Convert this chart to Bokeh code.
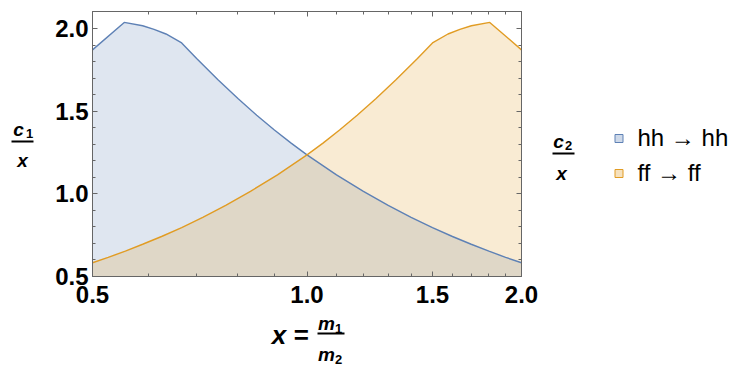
from bokeh.plotting import figure
from bokeh.layouts import row, column
from bokeh.models import (Range1d, FixedTicker, LogAxis, LinearAxis, PrintfTickFormatter,
                          CustomJSTickFormatter, ColumnDataSource)
from bokeh.core.properties import value
from bokeh.embed import file_html
from bokeh.resources import INLINE

# ---------------- data ----------------
x_hh = [0.5, 0.554, 0.588, 0.61, 0.634, 0.667, 0.7, 0.75, 0.8, 0.85, 0.9, 0.95, 1.0,
        1.1, 1.2, 1.3, 1.4, 1.5, 1.6, 1.7, 1.8, 1.9, 2.0]
c1_hh = [1.871, 2.037, 2.017, 1.995, 1.967, 1.913, 1.819, 1.69, 1.577, 1.475, 1.386, 1.307, 1.236,
         1.115, 1.015, 0.930, 0.858, 0.796, 0.742, 0.695, 0.653, 0.616, 0.583]

x_ff = [0.5, 0.526, 0.556, 0.588, 0.625, 0.667, 0.714, 0.769, 0.833, 0.909, 1.0,
        1.053, 1.111, 1.176, 1.25, 1.333, 1.429, 1.5, 1.577, 1.639, 1.701, 1.805, 2.0]
c2_ff = [0.583, 0.616, 0.653, 0.695, 0.742, 0.796, 0.858, 0.930, 1.015, 1.115, 1.236,
         1.307, 1.386, 1.475, 1.577, 1.69, 1.819, 1.913, 1.967, 1.995, 2.017, 2.037, 1.871]

series_names = ["hh \u2192 hh", "ff \u2192 ff"]

x_major = [0.5, 1.0, 1.5, 2.0]
x_minor = [0.6, 0.7, 0.8, 0.9, 1.1, 1.2, 1.3, 1.4, 1.6, 1.7, 1.8, 1.9]
y_major = [0.5, 1.0, 1.5, 2.0]
y_minor = [0.6, 0.7, 0.8, 0.9, 1.1, 1.2, 1.3, 1.4, 1.6, 1.7, 1.8, 1.9]
x_lim = (0.5, 2.0)
y_lim = (0.5, 2.103)

# ---------------- styling ----------------
BLUE = "#5e81b5"
ORANGE = "#e19c24"
FRAME = "#666666"
FONT = "Liberation Sans"

# ---------------- main plot ----------------
p = figure(width=495, height=310, x_axis_type="log",
           x_range=Range1d(*x_lim), y_range=Range1d(*y_lim),
           output_backend="svg", toolbar_location=None,
           min_border_left=47, min_border_right=19, min_border_top=11, min_border_bottom=34)
p.grid.visible = False
p.outline_line_color = FRAME
p.background_fill_color = "white"

src_hh = ColumnDataSource(dict(x=x_hh, y=c1_hh))
src_ff = ColumnDataSource(dict(x=x_ff, y=c2_ff))

p.varea(x="x", y1=y_lim[0], y2="y", source=src_hh, fill_color=BLUE, fill_alpha=0.2)
p.varea(x="x", y1=y_lim[0], y2="y", source=src_ff, fill_color=ORANGE, fill_alpha=0.2)
p.line(x="x", y="y", source=src_hh, line_color=BLUE, line_width=1.4)
p.line(x="x", y="y", source=src_ff, line_color=ORANGE, line_width=1.4)

xt = FixedTicker(ticks=x_major, minor_ticks=x_minor)
yt = FixedTicker(ticks=y_major, minor_ticks=y_minor)


def style_axis(ax, labels=True, standoff=5):
    ax.axis_line_color = FRAME
    ax.major_tick_line_color = FRAME
    ax.minor_tick_line_color = FRAME
    ax.major_tick_in = 5
    ax.major_tick_out = 0
    ax.minor_tick_in = 3
    ax.minor_tick_out = 0
    if labels:
        ax.major_label_text_font = FONT
        ax.major_label_text_font_size = "24px"
        ax.major_label_text_font_style = "bold"
        ax.major_label_text_color = "black"
        ax.major_label_standoff = standoff
        ax.formatter = PrintfTickFormatter(format="%.1f")
    else:
        ax.formatter = CustomJSTickFormatter(code="return ''")
        ax.major_label_text_font_size = "1px"
        ax.major_label_standoff = 0


p.xaxis.ticker = xt
p.yaxis.ticker = yt
style_axis(p.xaxis[0], standoff=9)
style_axis(p.yaxis[0], standoff=4)

top_ax = LogAxis(ticker=xt)
style_axis(top_ax, labels=False)
p.add_layout(top_ax, "above")
right_ax = LinearAxis(ticker=yt)
style_axis(right_ax, labels=False)
p.add_layout(right_ax, "right")


# ---------------- text panels around the plot ----------------
# Each panel's ranges are set to the page-pixel span its frame occupies (y downward).
def blank(w, h, xr, yr):
    f = figure(width=w, height=h, x_range=Range1d(*xr), y_range=Range1d(*yr),
               output_backend="svg", toolbar_location=None, min_border=0,
               x_axis_location=None, y_axis_location=None)
    f.grid.visible = False
    f.outline_line_color = None
    return f


def txt(f, text, x, y, size, style="bold italic", align="center"):
    f.text(x=[x], y=[y], text=[text], text_font=value(FONT), text_font_size=value(f"{size}px"),
           text_font_style=value(style), text_align=value(align), text_baseline=value("middle"),
           text_color="black")


def bar(f, x0, x1, y):
    f.segment(x0=[x0], y0=[y], x1=[x1], y1=[y], line_color="black", line_width=2.2)


# left: c1 / x
left = blank(45, 310, (0, 45), (276, 11))
txt(left, "c", 18, 129, 19)
txt(left, "1", 29, 133, 13, style="bold")
bar(left, 11, 33, 141)
txt(left, "x", 22, 160, 19)

# right: c2 / x and legend
right = blank(190, 310, (540, 730), (276, 11))
txt(right, "c", 558, 141, 19)
txt(right, "2", 568, 145, 13, style="bold")
bar(right, 552, 574, 153)
txt(right, "x", 561, 173, 19)

right.scatter(x=[618.5], y=[138], marker="square", size=8, fill_color=BLUE, fill_alpha=0.3,
              line_color=BLUE, line_width=1)
right.scatter(x=[618.5], y=[173], marker="square", size=8, fill_color=ORANGE, fill_alpha=0.3,
              line_color=ORANGE, line_width=1)
txt(right, series_names[0], 637, 137, 24, style="normal", align="left")
txt(right, series_names[1], 637, 172, 24, style="normal", align="left")

# bottom: x = m1 / m2
bottom = blank(730, 60, (0, 730), (370, 310))
txt(bottom, "x =", 308, 334, 26, align="right")
txt(bottom, "m", 326, 323, 19)
txt(bottom, "1", 338, 328, 13, style="bold")
bar(bottom, 317, 344, 333)
txt(bottom, "m", 326, 354, 19)
txt(bottom, "2", 338, 359, 13, style="bold")

layout = column(row(left, p, right), bottom)

open("out.html", "w").write(file_html(layout, INLINE))
